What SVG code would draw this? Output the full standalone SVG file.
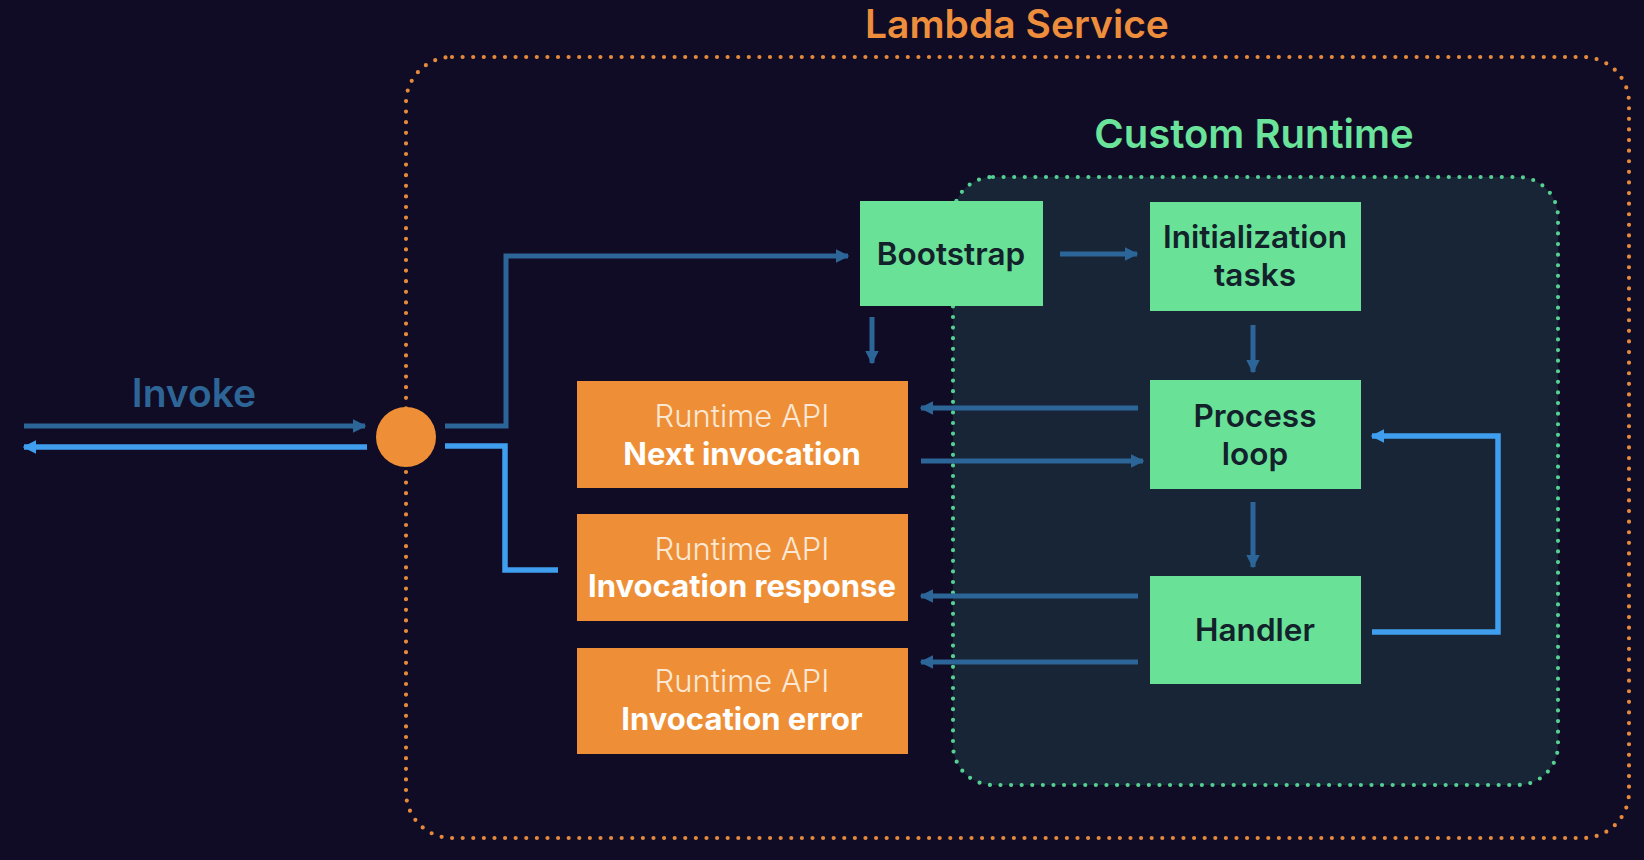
<svg xmlns="http://www.w3.org/2000/svg" width="1644" height="860" viewBox="0 0 1644 860">
<defs>
<style>
.title{font-family:Inter,"Noto Sans","DejaVu Sans",sans-serif;font-weight:600;font-size:39px;text-anchor:middle}
.gtxt{font-family:Inter,"Noto Sans","DejaVu Sans",sans-serif;font-weight:600;font-size:31.5px;fill:#13212b;text-anchor:middle}
.olight{font-family:Inter,"Noto Sans","DejaVu Sans",sans-serif;font-weight:300;font-size:31px;fill:#fbe8d4;text-anchor:middle}
.obold{font-family:Inter,"Noto Sans","DejaVu Sans",sans-serif;font-weight:700;font-size:31px;fill:#ffffff;text-anchor:middle}
.gbox{fill:#69e298}
.obox{fill:#ee8f38}
.dk{fill:none;stroke:#2c6597;stroke-width:5}
.br{fill:none;stroke:#3f9eee;stroke-width:5.5}
</style>
<marker id="ad" viewBox="0 0 10 10" refX="9" refY="5" markerWidth="2.7" markerHeight="2.7" markerUnits="strokeWidth" orient="auto">
<path d="M0,0 L10,5 L0,10 z" fill="#2c6597"/>
</marker>
<marker id="ab" viewBox="0 0 10 10" refX="9" refY="5" markerWidth="2.5" markerHeight="2.5" markerUnits="strokeWidth" orient="auto">
<path d="M0,0 L10,5 L0,10 z" fill="#3f9eee"/>
</marker>
</defs>
<rect x="0" y="0" width="1644" height="860" fill="#100c25"/>

<g id="lambda-service">
<rect x="406" y="57" width="1223" height="781" rx="46" ry="46" fill="none" stroke="#e58a3c" stroke-width="4.2" stroke-dasharray="0 10.6" stroke-linecap="round"/>
<text class="title" x="1017" y="38" fill="#ee8e3c">Lambda Service</text>
</g>

<g id="custom-runtime">
<rect x="953" y="177" width="605" height="608" rx="40" ry="40" fill="#182537" stroke="#55d091" stroke-width="4.2" stroke-dasharray="0 10.6" stroke-linecap="round"/>
<text class="title" x="1254" y="148" fill="#6ae39b" style="font-size:40px">Custom Runtime</text>
</g>

<g id="invoke">
<text class="title" x="194" y="407" fill="#2e6597">Invoke</text>
</g>

<g id="entry-point">
<circle cx="406" cy="437" r="30" fill="#ee8f38"/>
</g>

<g id="bootstrap">
<rect class="gbox" x="860" y="201" width="183" height="105"/>
<text class="gtxt" x="951" y="265">Bootstrap</text>
</g>

<g id="initialization-tasks">
<rect class="gbox" x="1150" y="202" width="211" height="109"/>
<text class="gtxt" x="1255" y="248">Initialization</text>
<text class="gtxt" x="1255" y="286">tasks</text>
</g>

<g id="process-loop">
<rect class="gbox" x="1150" y="380" width="211" height="109"/>
<text class="gtxt" x="1255" y="427">Process</text>
<text class="gtxt" x="1255" y="465">loop</text>
</g>

<g id="handler">
<rect class="gbox" x="1150" y="576" width="211" height="108"/>
<text class="gtxt" x="1255" y="641">Handler</text>
</g>

<g id="next-invocation">
<rect class="obox" x="577" y="381" width="331" height="107"/>
<text class="olight" x="742" y="427">Runtime API</text>
<text class="obold" x="742" y="465">Next invocation</text>
</g>

<g id="invocation-response">
<rect class="obox" x="577" y="514" width="331" height="107"/>
<text class="olight" x="742" y="560">Runtime API</text>
<text class="obold" x="742" y="597">Invocation response</text>
</g>

<g id="invocation-error">
<rect class="obox" x="577" y="648" width="331" height="106"/>
<text class="olight" x="742" y="692">Runtime API</text>
<text class="obold" x="742" y="730">Invocation error</text>
</g>

<g id="connectors">
<path class="dk" d="M24,426 H365" marker-end="url(#ad)"/>
<path class="br" d="M367,447 H24" marker-end="url(#ab)"/>
<path class="dk" d="M445,426 H506 V256 H848" marker-end="url(#ad)"/>
<path class="br" d="M445,446 H505 V570 H558"/>
<path class="dk" d="M1060,254 H1137" marker-end="url(#ad)"/>
<path class="dk" d="M872,317 V363" marker-end="url(#ad)"/>
<path class="dk" d="M1253,325 V372" marker-end="url(#ad)"/>
<path class="dk" d="M1138,408 H921" marker-end="url(#ad)"/>
<path class="dk" d="M921,461 H1143" marker-end="url(#ad)"/>
<path class="dk" d="M1253,502 V567" marker-end="url(#ad)"/>
<path class="dk" d="M1138,596 H921" marker-end="url(#ad)"/>
<path class="dk" d="M1138,662 H921" marker-end="url(#ad)"/>
<path class="br" d="M1372,632 H1498 V436 H1372" marker-end="url(#ab)"/>
</g>
</svg>
